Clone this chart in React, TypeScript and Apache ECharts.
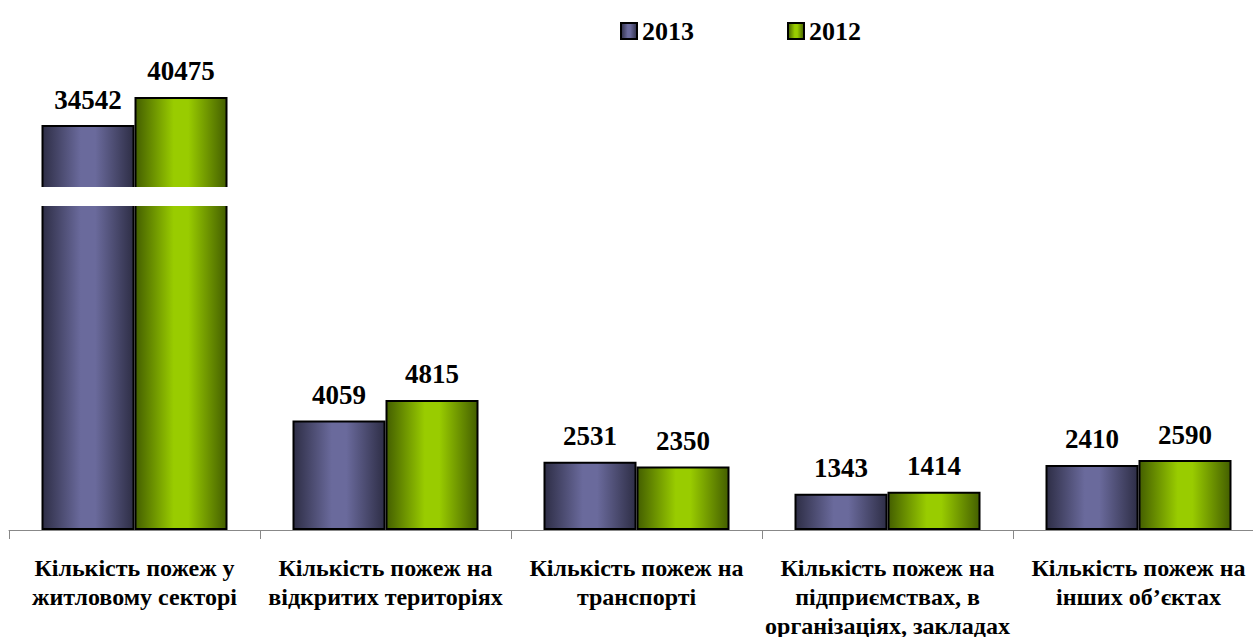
import React, { useEffect, useRef } from "react";
import * as echarts from "echarts";

const categories = [
  "Кількість пожеж у\nжитловому секторі",
  "Кількість пожеж на\nвідкритих територіях",
  "Кількість пожеж на\nтранспорті",
  "Кількість пожеж на\nпідприємствах, в\nорганізаціях, закладах",
  "Кількість пожеж на\nінших об’єктах",
];
const seriesNames = ["2013", "2012"];
const values2013 = [34542, 4059, 2531, 1343, 2410];
const values2012 = [40475, 4815, 2350, 1414, 2590];

// Broken value axis: values above BREAK_END are drawn compressed above a gap.
const BREAK_START = 12000;
const BREAK_END = 21400;
const BREAK_GAP = 700;
const UPPER_RATIO = 0.175;
const toAxis = (v: number) =>
  v <= BREAK_START ? v : BREAK_START + BREAK_GAP + (v - BREAK_END) * UPPER_RATIO;

const FONT = "Liberation Serif";

const grad = (edge: string, mid: string, edge2: string) =>
  new echarts.graphic.LinearGradient(0, 0, 1, 0, [
    { offset: 0, color: edge },
    { offset: 0.42, color: mid },
    { offset: 0.58, color: mid },
    { offset: 1, color: edge2 },
  ]);

export default function App() {
  const ref = useRef<HTMLDivElement>(null);
  useEffect(() => {
    if (!ref.current) return;
    const chart = echarts.init(ref.current, null, { renderer: "svg" });
    const makeSeries = (name: string, vals: number[], fill: any) => ({
      name,
      type: "bar",
      barWidth: 93,
      barGap: "0%",
      data: vals.map((v) => ({ value: toAxis(v), raw: v })),
      itemStyle: { color: fill, borderColor: "#000", borderWidth: 2 },
      label: {
        show: true,
        position: "top",
        distance: 12,
        color: "#000",
        fontFamily: FONT,
        fontWeight: "bold",
        fontSize: 27,
        formatter: (p: any) => String(p.data.raw),
      },
    });
    chart.setOption({
      animation: false,
      backgroundColor: "#fff",
      textStyle: { fontFamily: FONT },
      legend: {
        top: 13,
        left: 615,
        itemGap: 93,
        itemWidth: 16,
        itemHeight: 16,
        icon: "rect",
        textStyle: { fontFamily: FONT, fontWeight: "bold", fontSize: 26, color: "#000" },
        data: seriesNames,
      },
      grid: {
        left: 9,
        right: -11,
        top: 71,
        bottom: 107,
        containLabel: false,
        outerBoundsMode: "none",
      },
      xAxis: {
        type: "category",
        data: categories,
        axisLine: { lineStyle: { color: "#888", width: 1 } },
        axisTick: { show: true, length: 9, lineStyle: { color: "#888" } },
        axisLabel: {
          interval: 0,
          margin: 23,
          color: "#000",
          fontFamily: FONT,
          fontWeight: "bold",
          fontSize: 24,
          lineHeight: 29,
        },
      },
      yAxis: {
        type: "value",
        min: 0,
        max: 17000,
        show: false,
        splitLine: { show: false },
      },
      series: [
        makeSeries(seriesNames[0], values2013, grad("#2e2e46", "#6a6a9c", "#2e2e46")),
        makeSeries(seriesNames[1], values2012, grad("#445f00", "#99cc00", "#445f00")),
      ],
    });
    const yLo = chart.convertToPixel({ yAxisIndex: 0 }, BREAK_START) as number;
    const yHi = chart.convertToPixel({ yAxisIndex: 0 }, BREAK_START + BREAK_GAP) as number;
    chart.setOption({
      graphic: [
        {
          type: "rect",
          z: 100,
          shape: { x: 0, y: yHi, width: chart.getWidth(), height: yLo - yHi },
          style: { fill: "#fff" },
        },
      ],
    });
    return () => chart.dispose();
  }, []);
  return (
    <div
      ref={ref}
      style={{ position: "fixed", left: 0, top: 0, width: 1253, height: 637 }}
    />
  );
}
